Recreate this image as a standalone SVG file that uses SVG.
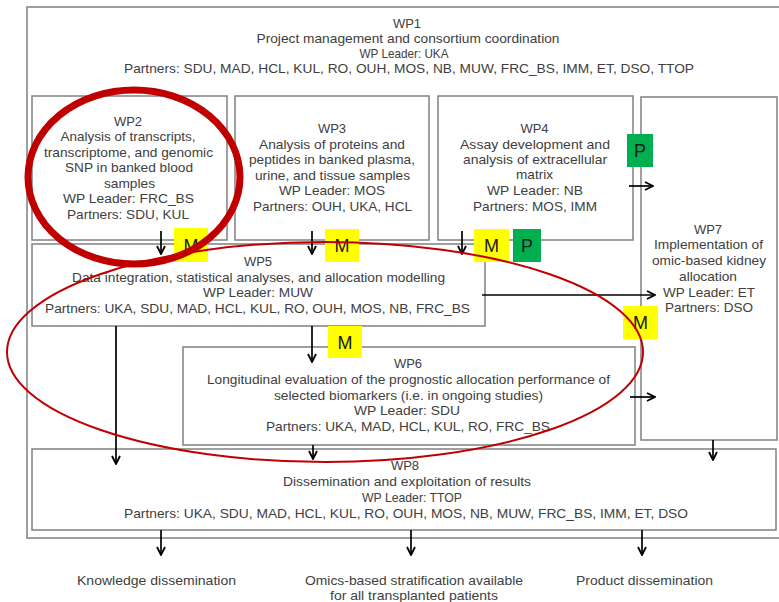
<svg xmlns="http://www.w3.org/2000/svg" width="779" height="602" viewBox="0 0 779 602">
<defs>
<style>
.box{fill:#fff;stroke:#808080;stroke-width:1.5}
.t{font-family:"Liberation Sans",Arial,sans-serif;font-size:13px;fill:#404040;text-anchor:middle}
.arr{stroke:#000;stroke-width:1.7;fill:none;marker-end:url(#ah)}
.ym{fill:#ffff00}
.gp{fill:#00b050}
.mt{font-family:"Liberation Sans",Arial,sans-serif;font-size:18px;fill:#1a1a1a;text-anchor:middle}
.red{fill:none;stroke:#c00000}
</style>
<marker id="ah" viewBox="0 0 10 10" refX="9" refY="5" markerWidth="10" markerHeight="10" markerUnits="userSpaceOnUse" orient="auto">
<path d="M1,1 L9,5 L1,9" fill="none" stroke="#000" stroke-width="1.8"/>
</marker>
</defs>
<rect width="779" height="602" fill="#fff"/>

<g id="WP1">
<rect class="box" x="27" y="7" width="760" height="531"/>
<text class="t" x="407" y="27.5">WP1</text>
<text class="t" x="408" y="43" textLength="303" lengthAdjust="spacingAndGlyphs">Project management and consortium coordination</text>
<text class="t" x="404" y="58" textLength="89" lengthAdjust="spacingAndGlyphs">WP Leader: UKA</text>
<text class="t" x="409" y="73" textLength="570" lengthAdjust="spacingAndGlyphs">Partners: SDU, MAD, HCL, KUL, RO, OUH, MOS, NB, MUW, FRC_BS, IMM, ET, DSO, TTOP</text>
</g>

<g id="WP2">
<rect class="box" x="32" y="96" width="195" height="144"/>
<text class="t" x="128" y="125.5">WP2</text>
<text class="t" x="128" y="141" textLength="135" lengthAdjust="spacingAndGlyphs">Analysis of  transcripts,</text>
<text class="t" x="128.5" y="156.5" textLength="169" lengthAdjust="spacingAndGlyphs">transcriptome, and genomic</text>
<text class="t" x="129" y="172" textLength="128" lengthAdjust="spacingAndGlyphs">SNP in banked blood</text>
<text class="t" x="129.5" y="187.5" textLength="51" lengthAdjust="spacingAndGlyphs">samples</text>
<text class="t" x="128.5" y="203" textLength="131" lengthAdjust="spacingAndGlyphs">WP Leader: FRC_BS</text>
<text class="t" x="128" y="218.5" textLength="122" lengthAdjust="spacingAndGlyphs">Partners: SDU, KUL</text>
</g>

<g id="WP3">
<rect class="box" x="235" y="96" width="194" height="144"/>
<text class="t" x="332" y="132.5">WP3</text>
<text class="t" x="332" y="148.5" textLength="146" lengthAdjust="spacingAndGlyphs">Analysis of proteins and</text>
<text class="t" x="332" y="164" textLength="166" lengthAdjust="spacingAndGlyphs">peptides in banked plasma,</text>
<text class="t" x="332.5" y="179.5" textLength="155" lengthAdjust="spacingAndGlyphs">urine, and tissue samples</text>
<text class="t" x="332" y="195" textLength="106" lengthAdjust="spacingAndGlyphs">WP Leader: MOS</text>
<text class="t" x="332.5" y="210.5" textLength="159" lengthAdjust="spacingAndGlyphs">Partners: OUH, UKA, HCL</text>
</g>

<g id="WP4">
<rect class="box" x="438" y="96" width="195" height="144"/>
<text class="t" x="534.5" y="132.5">WP4</text>
<text class="t" x="535" y="148.5" textLength="150" lengthAdjust="spacingAndGlyphs">Assay development  and</text>
<text class="t" x="535" y="163.5" textLength="144" lengthAdjust="spacingAndGlyphs">analysis of extracellular</text>
<text class="t" x="534.5" y="178.5" textLength="37" lengthAdjust="spacingAndGlyphs">matrix</text>
<text class="t" x="535" y="195" textLength="96" lengthAdjust="spacingAndGlyphs">WP Leader: NB</text>
<text class="t" x="535" y="210.5" textLength="124" lengthAdjust="spacingAndGlyphs">Partners: MOS, IMM</text>
</g>

<g id="WP7">
<rect class="box" x="641" y="97" width="136" height="343"/>
<text class="t" x="708" y="233.5">WP7</text>
<text class="t" x="708.5" y="249" textLength="109" lengthAdjust="spacingAndGlyphs">Implementation of</text>
<text class="t" x="709" y="264.5" textLength="114" lengthAdjust="spacingAndGlyphs">omic-based kidney</text>
<text class="t" x="708" y="280.5" textLength="58" lengthAdjust="spacingAndGlyphs">allocation</text>
<text class="t" x="709" y="296.5" textLength="92" lengthAdjust="spacingAndGlyphs">WP Leader: ET</text>
<text class="t" x="709" y="311.5" textLength="88" lengthAdjust="spacingAndGlyphs">Partners: DSO</text>
</g>

<g id="WP5">
<rect class="box" x="32" y="244" width="453" height="82"/>
<text class="t" x="258" y="265.5">WP5</text>
<text class="t" x="258.5" y="281.5" textLength="373" lengthAdjust="spacingAndGlyphs">Data integration, statistical analyses, and allocation modelling</text>
<text class="t" x="258" y="296.5" textLength="110" lengthAdjust="spacingAndGlyphs">WP Leader: MUW</text>
<text class="t" x="257.5" y="312.5" textLength="425" lengthAdjust="spacingAndGlyphs">Partners: UKA, SDU, MAD, HCL, KUL, RO, OUH, MOS, NB, FRC_BS</text>
</g>

<g id="WP6">
<rect class="box" x="183" y="347" width="452" height="98"/>
<text class="t" x="408" y="367.5">WP6</text>
<text class="t" x="408.5" y="384" textLength="403" lengthAdjust="spacingAndGlyphs">Longitudinal evaluation of the prognostic allocation performance of</text>
<text class="t" x="408.5" y="399.5" textLength="269" lengthAdjust="spacingAndGlyphs">selected biomarkers (i.e. in ongoing studies)</text>
<text class="t" x="407" y="415" textLength="106" lengthAdjust="spacingAndGlyphs">WP Leader: SDU</text>
<text class="t" x="408" y="431" textLength="284" lengthAdjust="spacingAndGlyphs">Partners: UKA, MAD, HCL, KUL, RO, FRC_BS</text>
</g>

<g id="WP8">
<rect class="box" x="32" y="449" width="744" height="81"/>
<text class="t" x="405" y="469.5">WP8</text>
<text class="t" x="407" y="486" textLength="248" lengthAdjust="spacingAndGlyphs">Dissemination and exploitation of results</text>
<text class="t" x="412" y="501.5" textLength="100" lengthAdjust="spacingAndGlyphs">WP Leader: TTOP</text>
<text class="t" x="406" y="517.5" textLength="564" lengthAdjust="spacingAndGlyphs">Partners: UKA, SDU, MAD, HCL, KUL, RO, OUH, MOS, NB, MUW, FRC_BS, IMM, ET, DSO</text>
</g>

<g id="outputs">
<text class="t" x="156.5" y="584.5" textLength="159" lengthAdjust="spacingAndGlyphs">Knowledge dissemination</text>
<text class="t" x="414" y="584.5" textLength="218" lengthAdjust="spacingAndGlyphs">Omics-based stratification available</text>
<text class="t" x="414" y="599.5" textLength="168" lengthAdjust="spacingAndGlyphs">for all transplanted patients</text>
<text class="t" x="644.5" y="584.5" textLength="137" lengthAdjust="spacingAndGlyphs">Product dissemination</text>
</g>

<g id="connectors">
<line class="arr" x1="161" y1="231" x2="161" y2="254"/>
<line class="arr" x1="312" y1="231" x2="312" y2="254"/>
<line class="arr" x1="462" y1="231" x2="462" y2="254"/>
<line class="arr" x1="629" y1="186" x2="653" y2="186"/>
<line class="arr" x1="482" y1="295" x2="655" y2="295"/>
<line class="arr" x1="312" y1="326" x2="312" y2="362"/>
<line class="arr" x1="116" y1="326" x2="116" y2="464"/>
<line class="arr" x1="630" y1="397" x2="655" y2="397"/>
<line class="arr" x1="313" y1="445" x2="313" y2="459"/>
<line class="arr" x1="713" y1="440" x2="713" y2="460"/>
<line class="arr" x1="161" y1="530" x2="161" y2="555"/>
<line class="arr" x1="411" y1="530" x2="411" y2="555"/>
<line class="arr" x1="642" y1="530" x2="642" y2="555"/>
</g>

<g id="milestones">
<rect class="ym" x="174" y="228" width="34" height="34"/>
<text class="mt" x="191" y="251.5">M</text>
<rect class="ym" x="325" y="229" width="34" height="33"/>
<text class="mt" x="342" y="252">M</text>
<rect class="ym" x="474" y="229" width="35" height="33"/>
<text class="mt" x="491.5" y="252">M</text>
<rect class="gp" x="513" y="229" width="28" height="33"/>
<text class="mt" x="527" y="252">P</text>
<rect class="gp" x="627" y="134" width="26" height="33"/>
<text class="mt" x="640" y="157">P</text>
<rect class="ym" x="623" y="306" width="35" height="33"/>
<text class="mt" x="640.5" y="329">M</text>
<rect class="ym" x="328" y="326" width="34" height="32"/>
<text class="mt" x="345" y="348.5">M</text>
</g>

<g id="highlights">
<ellipse class="red" cx="325" cy="352" rx="318" ry="110" stroke-width="2"/>
<ellipse class="red" cx="134" cy="177" rx="106" ry="87" stroke-width="7"/>
</g>
</svg>
